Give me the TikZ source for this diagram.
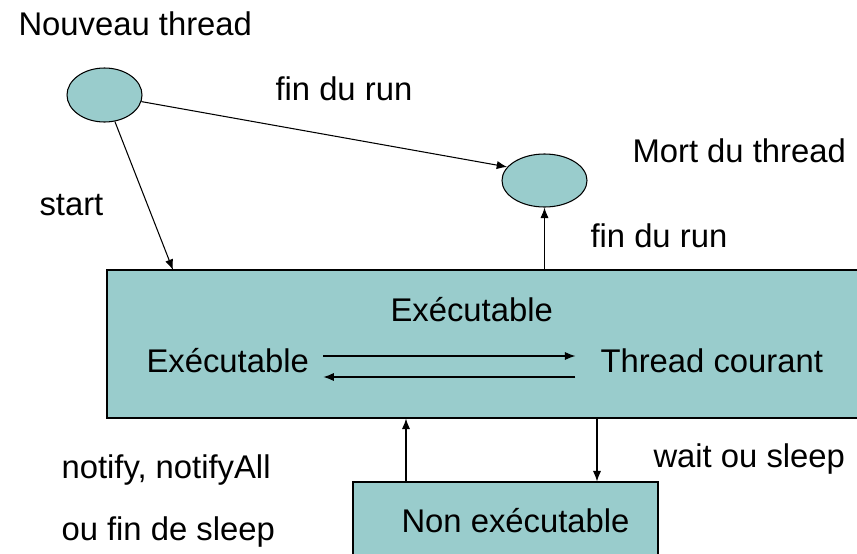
\documentclass[tikz,border=0pt]{standalone}
\usepackage{fontspec}
\setmainfont{Liberation Sans}
\usetikzlibrary{shapes.geometric,arrows.meta}
\definecolor{stateteal}{HTML}{99CCCC}

\begin{document}
\begin{tikzpicture}[x=0.03cm, y=-0.03cm, line width=0.9pt,
                        >={Latex[length=9pt,width=7pt]},
                        every node/.style={font=\fontsize{28}{34}\selectfont},
                        state/.style={ellipse, draw=black, fill=stateteal},
                        box/.style={rectangle, draw=black, fill=stateteal, inner sep=0pt},
                        lbl/.style={inner sep=0pt, anchor=base west}]

                        \useasboundingbox (0,0) rectangle (857,554);

                        % Define nodes
                        \node[state, minimum width=2.25cm, minimum height=1.62cm] (new) at (104.5,95) {}; % Nouveau thread
                        \node[state, minimum width=2.55cm, minimum height=1.59cm] (dead) at (544.5,180.5) {}; % Mort du thread
                        \node[box, minimum width=22.59cm, minimum height=4.44cm] (run) at (483.5,344) {}; % Executable
                        \node[box, minimum width=9.15cm, minimum height=2.49cm] (wait) at (505.5,523.5) {}; % Non executable

                        % Texts
                        \node[lbl] (newTxt) at (18,35) {Nouveau thread};
                        \node[lbl] (deadTxt) at (632,162) {Mort du thread};
                        \node[lbl] (endTxt) at (275,100) {fin du run};
                        \node[lbl] (endTxt2) at (590,247) {fin du run};
                        \node[lbl] (startTxt) at (39,215) {start};
                        \node[lbl] (runTxt) at (390,321) {Exécutable};
                        \node[lbl] (execL) at (146,372) {Exécutable};
                        \node[lbl] (cur) at (600,372) {Thread courant};
                        \node[lbl] (waitTxt) at (401,532) {Non exécutable};
                        \node[lbl] (sleepTxt) at (653,467) {wait ou sleep};
                        \node[lbl] (notifyTxt) at (61,478) {notify, notifyAll};
                        \node[lbl] (notifyTxt2) at (61,540) {ou fin de sleep};

                        % Free ends and lanes
                        \coordinate (startEnd) at (173,270);
                        \coordinate (goLane) at (0,356);
                        \coordinate (backLane) at (0,377);
                        \coordinate (upX) at (406,0);
                        \coordinate (downX) at (597,0);

                        % Define edges
                        \draw [->] (new) -- (startEnd);
                        \draw [->] (new) -- (dead.160);
                        \draw [->] (run.north -| dead.south) -- (dead.south);
                        \draw [->, shorten <=12pt, shorten >=21pt] (execL.east |- goLane) -- (cur.west |- goLane);
                        \draw [->, shorten <=21pt, shorten >=12pt] (cur.west |- backLane) -- (execL.east |- backLane);
                        \draw [->] (wait.north -| upX) -- (run.south -| upX);
                        \draw [->] (run.south -| downX) -- (wait.north -| downX);
                    \end{tikzpicture}
\end{document}
